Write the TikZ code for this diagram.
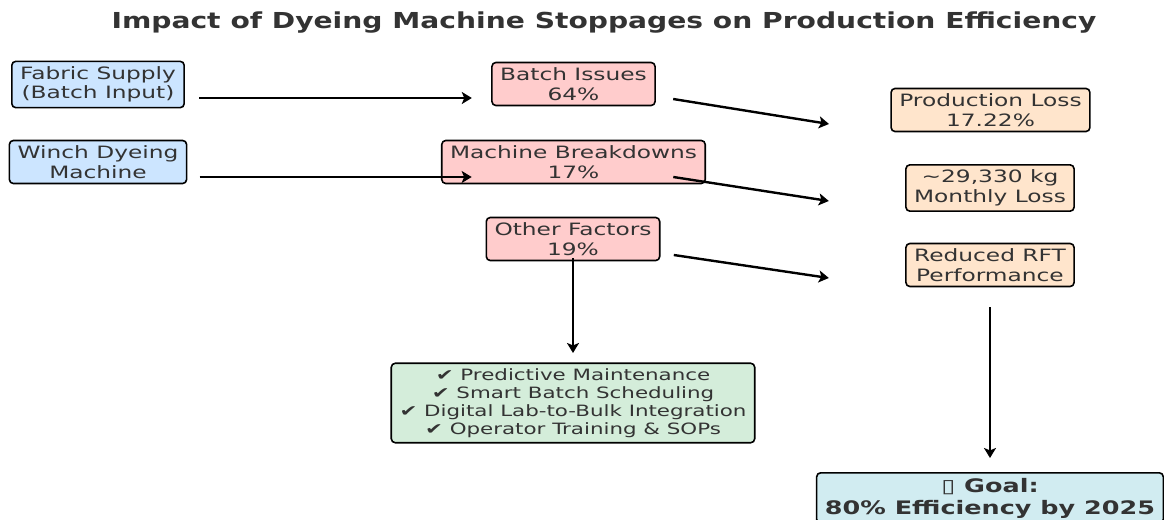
\documentclass[tikz,border=0pt]{standalone}
\usepackage{fontspec}
\setmainfont{DejaVu Sans}
\usetikzlibrary{arrows.meta,calc}
\definecolor{inkgray}{HTML}{333333}
\definecolor{supplyblue}{HTML}{CCE5FF}
\definecolor{causered}{HTML}{FFCCCC}
\definecolor{losspeach}{HTML}{FFE5CC}
\definecolor{fixgreen}{HTML}{D4EDDA}
\definecolor{goalcyan}{HTML}{D1ECF1}
\tikzset{
  box/.style={draw=black, line width=0.8pt, rounded corners=2pt, align=center,
    text=inkgray, font=\fontsize{8.5}{9.75}\selectfont, xscale=1.37,
    inner xsep=3pt, inner ysep=2.6pt},
  flow/.style={-{Stealth[length=5pt,width=6pt,inset=1.2pt]}, line width=1.2pt}
}
\begin{document}
\begin{tikzpicture}[x=0.5pt, y=-0.5pt]
\useasboundingbox (0,0) rectangle (1164,520);
\fill[white] (0,0) rectangle (1164,520);

\node[text=inkgray, font=\bfseries\fontsize{11}{13}\selectfont, xscale=1.28] (title) at (604,23) {Impact of Dyeing Machine Stoppages on Production Efficiency};

% inputs
\node[box, fill=supplyblue] (fabric) at (98,84.5) {Fabric Supply\\(Batch Input)};
\node[box, fill=supplyblue] (winch) at (98,162) {Winch Dyeing\\Machine};

% causes
\node[box, fill=causered] (batch) at (573.5,84) {Batch Issues\\64\%};
\node[box, fill=causered] (machine) at (573.5,162) {Machine Breakdowns\\17\%};
\node[box, fill=causered] (other) at (573,239) {Other Factors\\19\%};

% effects
\node[box, fill=losspeach] (prodloss) at (990.5,110) {Production Loss\\17.22\%};
\node[box, fill=losspeach] (monthly) at (990,188) {\textasciitilde 29,330 kg\\Monthly Loss};
\node[box, fill=losspeach] (rft) at (990,265) {Reduced RFT\\Performance};

% actions and goal
\node[box, fill=fixgreen, font=\fontsize{7.8}{9}\selectfont] (actions) at (573,403) {✔ Predictive Maintenance\\✔ Smart Batch Scheduling\\✔ Digital Lab-to-Bulk Integration\\✔ Operator Training \& SOPs};
\node[box, fill=goalcyan, anchor=north, font=\bfseries\fontsize{9.3}{11}\selectfont] (goal) at (990,472) {▯ Goal:\\80\% Efficiency by 2025};

% connectors
\draw[flow] ($(fabric.east)+(14,13.5)$) -- ($(batch.west)+(-19,14)$);
\draw[flow] ($(winch.east)+(12,15)$) -- ($(machine.west)+(31,15)$);
\draw[flow] ($(batch.east)+(17,15)$) -- ($(prodloss.west)+(-61,14)$);
\draw[flow] ($(machine.east)+(-33,15)$) -- ($(monthly.west)+(-76,13)$);
\draw[flow] ($(other.east)+(13,16)$) -- ($(rft.west)+(-76,13)$);
\draw[flow] (other.south |- 0,258) -- (actions.north |- 0,353);
\draw[flow] ($(rft.south)+(0,20)$) -- ($(goal.north)+(0,-14)$);
\end{tikzpicture}
\end{document}
